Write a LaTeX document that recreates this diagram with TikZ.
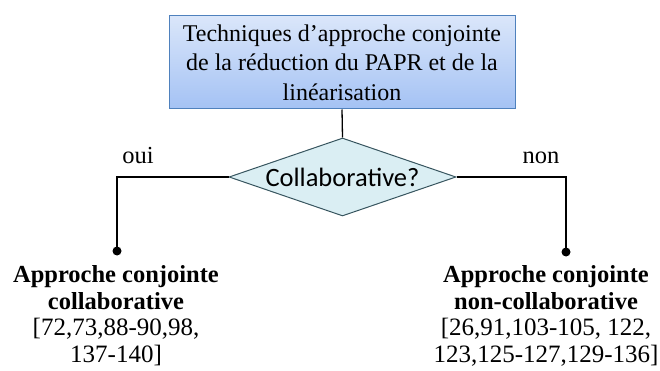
\documentclass[tikz,border=0pt]{standalone}
\usepackage{fontspec}
\setmainfont{Liberation Serif}
\newfontfamily\carlito{Carlito}
\usetikzlibrary{shapes.geometric}
\definecolor{boxtop}{RGB}{218,230,250}
\definecolor{boxbot}{RGB}{164,194,244}
\definecolor{boxline}{RGB}{79,129,189}
\definecolor{diafill}{RGB}{218,238,243}
\definecolor{dialine}{RGB}{55,85,95}
\newcommand{\boldline}{\fontsize{24.5}{27}\selectfont\bfseries}
\tikzset{
  conn/.style={draw=black, line width=1.3pt},
  topbox/.style={draw=boxline, line width=1pt, top color=boxtop, bottom color=boxbot,
    minimum width=346pt, minimum height=93pt, inner sep=0pt, align=center,
    font=\fontsize{24}{29.5}\selectfont},
  decision/.style={diamond, draw=dialine, line width=1pt, fill=diafill, aspect=2.9,
    minimum width=227pt, minimum height=78pt, inner sep=0pt,
    font=\carlito\fontsize{26.5}{30}\selectfont},
  enddot/.style={circle, fill=black, minimum size=9pt, inner sep=0pt},
  result/.style={align=center, inner sep=0pt, anchor=north, font=\fontsize{25}{26.5}\selectfont},
  lab/.style={inner sep=0pt, anchor=base, font=\fontsize{24.5}{27}\selectfont}
}
\begin{document}
\begin{tikzpicture}[x=1pt,y=-1pt]
\useasboundingbox (0,0) rectangle (660,371);
\node[topbox] (top) at (342,62.5) {Techniques d’approche conjointe\\ de la réduction du PAPR et de la\\ linéarisation};
\node[decision] (dec) at (342.5,177) {Collaborative?};
\node[enddot] (dl) at (117,251) {};
\node[enddot] (dr) at (566,252) {};
\draw[conn] (top.south) -- (dec.north);
\draw[conn] (dec.west) -| (dl.center);
\draw[conn] (dec.east) -| (dr.center);
\node[lab] (oui) at (138,164) {oui};
\node[lab] (non) at (541,164) {non};
\node[result] (rl) at (116,265.5) {\boldline Approche conjointe\\ \boldline collaborative\\ {[}72,73,88-90,98,\\ 137-140]};
\node[result] (rr) at (546,265.5) {\boldline Approche conjointe\\ \boldline non-collaborative\\ {[}26,91,103-105, 122,\\ 123,125-127,129-136]};
\end{tikzpicture}
\end{document}
